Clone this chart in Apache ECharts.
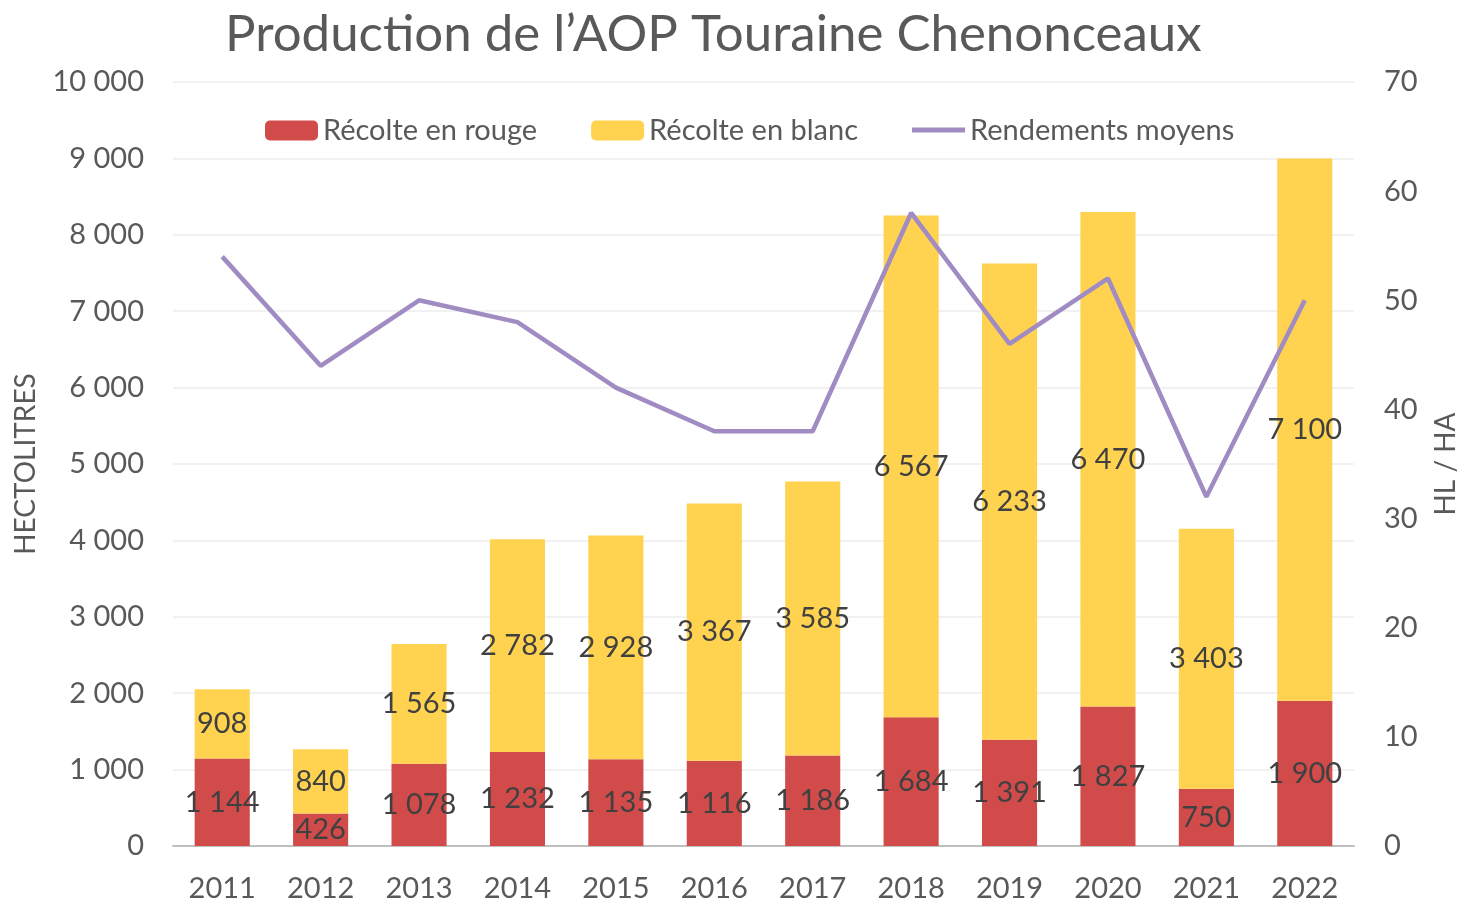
<!DOCTYPE html>
<html><head><meta charset="utf-8">
<script src="https://cdn.jsdelivr.net/npm/echarts@6/dist/echarts.min.js"></script>
<style>html,body{margin:0;padding:0;background:#fff}#c{width:1458px;height:901px}</style>
</head><body><div id="c"></div>
<script>
const years = ['2011','2012','2013','2014','2015','2016','2017','2018','2019','2020','2021','2022'];
const rouge = [1144, 426, 1078, 1232, 1135, 1116, 1186, 1684, 1391, 1827, 750, 1900];
const blanc = [908, 840, 1565, 2782, 2928, 3367, 3585, 6567, 6233, 6470, 3403, 7100];
const rendements = [54, 44, 50, 48, 42, 38, 38, 58, 46, 52, 32, 50];

const FONT = 'Lato';
const fmt = v => String(Math.round(v)).replace(/\B(?=(\d{3})+(?!\d))/g, ' ');
const chart = echarts.init(document.getElementById('c'));
const labelStyle = {show: true, position: 'inside', color: '#404040', fontSize: 29, fontFamily: FONT, formatter: p => fmt(p.value)};
chart.setOption({
  animation: false,
  textStyle: {fontFamily: FONT},
  title: {text: 'Production de l’AOP Touraine Chenonceaux', left: 220, top: 4,
    textStyle: {fontSize: 51, fontWeight: 'normal', color: '#595959', fontFamily: FONT}},
  legend: {top: 111, left: 260, itemWidth: 53, itemHeight: 20, itemGap: 54,
    textStyle: {fontSize: 29, color: '#595959', fontFamily: FONT},
    data: [{name: 'Récolte en rouge'}, {name: 'Récolte en blanc'},
      {name: 'Rendements moyens', icon: 'path://M0,0 L0,0 M0,7 L53,7 L53,12 L0,12 Z M53,20 L53,20', itemStyle: {color: '#A08CC3'}}]},
  grid: {left: 173, right: 104, top: 82, bottom: 55, containLabel: false, outerBoundsMode: 'none'},
  xAxis: {type: 'category', data: years,
    axisLine: {lineStyle: {color: '#BFBFBF', width: 2}}, axisTick: {show: false},
    axisLabel: {fontSize: 29, color: '#595959', margin: 28, fontFamily: FONT}},
  yAxis: [
    {type: 'value', min: 0, max: 10000, interval: 1000, name: 'HECTOLITRES', nameLocation: 'middle', nameGap: 133, nameRotate: 90,
      nameTextStyle: {fontSize: 28, color: '#595959', fontFamily: FONT},
      axisLabel: {fontSize: 29, color: '#595959', margin: 29, formatter: fmt, fontFamily: FONT},
      splitLine: {lineStyle: {color: '#EDEDED', width: 1.5}}, axisLine: {show: false}},
    {type: 'value', min: 0, max: 70, interval: 10, name: 'HL / HA', nameLocation: 'middle', nameGap: 78, nameRotate: 90,
      nameTextStyle: {fontSize: 28, color: '#595959', fontFamily: FONT},
      axisLabel: {fontSize: 29, color: '#595959', margin: 30, fontFamily: FONT},
      splitLine: {show: false}, axisLine: {show: false}}
  ],
  series: [
    {name: 'Récolte en rouge', type: 'bar', stack: 'p', data: rouge, barWidth: '56%',
      itemStyle: {color: '#D24B4B'}, label: labelStyle},
    {name: 'Récolte en blanc', type: 'bar', stack: 'p', data: blanc, barWidth: '56%',
      itemStyle: {color: '#FFD24F'}, label: labelStyle},
    {name: 'Rendements moyens', type: 'line', yAxisIndex: 1, data: rendements, showSymbol: false, symbol: 'none',
      lineStyle: {color: '#A08CC3', width: 4.5}, itemStyle: {color: '#A08CC3'}, z: 5}
  ]
});
</script></body></html>
